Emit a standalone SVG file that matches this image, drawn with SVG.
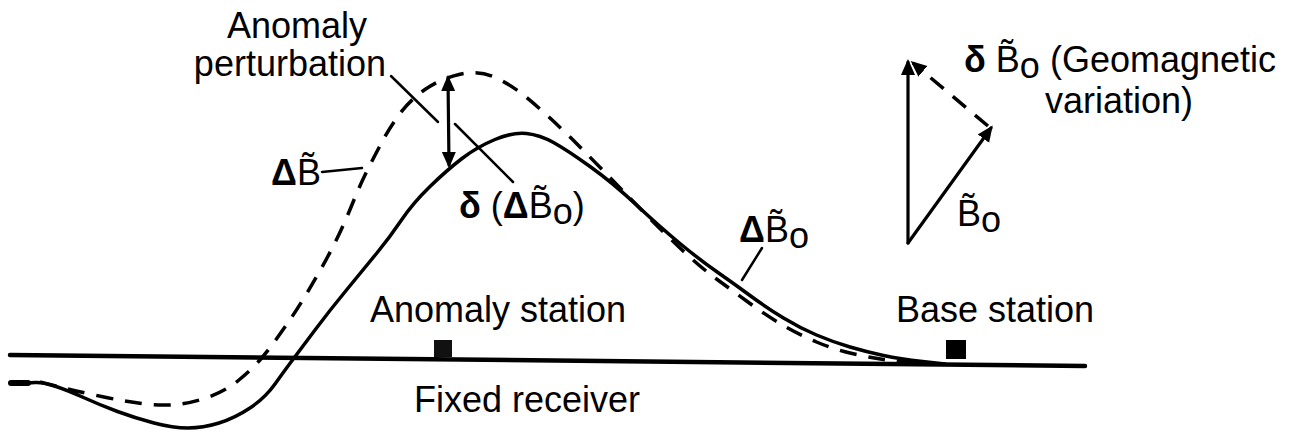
<svg xmlns="http://www.w3.org/2000/svg" width="1292" height="433" viewBox="0 0 1292 433">
<style>
text{font-family:"Liberation Sans",Arial,Helvetica,sans-serif;font-size:36px;fill:#000}
.b{font-weight:bold}
.e{text-anchor:end}
.ln{fill:none;stroke:#000;stroke-linecap:round;stroke-linejoin:round}
.solid{stroke-width:3.5}
.dash{stroke-width:3.5;stroke-dasharray:17 12;stroke-linecap:butt}
.lead{stroke-width:2.5}
.arr{stroke-width:3.2}
</style>
<defs>
<marker id="ah" viewBox="0 0 16 14" refX="13" refY="7" markerWidth="16" markerHeight="15" markerUnits="userSpaceOnUse" orient="auto-start-reverse">
<path d="M0,0 L16,7 L0,14 Z" fill="#000"/>
</marker>
</defs>
<rect width="1292" height="433" fill="#fff"/>

<g id="ground">
<path class="ln" d="M10,355 L1085,366" stroke-width="4.5"/>
<path class="ln" d="M11,383 L28,383" stroke-width="6" stroke-linecap="butt"/>
</g>

<g id="curves">
<path id="deltaB0-curve" class="ln solid" d="M28,383 L35,382.5 Q42,382 54.5,386 Q67,390 83.5,397.5 Q100,405 117.5,411.5 Q135,418 154,423 Q173,428 188,428 Q203,428 219,423 Q235,418 250,408 Q265,398 275,384 Q285,370 292.5,360 Q300,350 315,330 Q330,310 346.5,290 Q363,270 376.5,253.5 Q390,237 401.5,220 Q413,203 430,186.5 Q447,170 462,158.5 Q477,147 495,139.5 Q513,132 526.5,133.5 Q540,135 553.5,142.5 Q567,150 590,166.5 Q613,183 636.5,205 Q660,227 680,243.5 Q700,260 716.5,271.5 Q733,283 750,295.5 Q767,308 783.5,318 Q800,328 816.5,335 Q833,342 850,347 Q867,352 883.5,355.5 Q900,359 922.5,361.5 L945,364"/>
<path id="deltaB-curve" class="ln dash" d="M40,382 L60,387 Q80,392 101.5,396.5 Q123,401 141.5,403.5 Q160,406 176.5,404.5 Q193,403 210,396.5 Q227,390 239.5,379.5 Q252,369 259.5,360.5 Q267,352 275,341 Q283,330 290.5,319 Q298,308 305.5,295.5 Q313,283 321.5,268 Q330,253 337.5,237.5 Q345,222 352.5,203.5 Q360,185 367.5,170 Q375,155 382.5,141 Q390,127 400,113.5 Q410,100 425,89.5 Q440,79 459,74.5 Q478,70 494,77 Q510,84 523.5,95 Q537,106 550,118 Q563,130 576.5,143.5 Q590,157 605,172.5 Q620,188 640,208.5 Q660,229 680,248 Q700,267 716.5,279 Q733,291 750,303.5 Q767,316 783.5,325.5 Q800,335 816.5,342 Q833,349 850,353 Q867,357 883.5,359.5 Q900,362 917.5,363 L935,364"/>
</g>

<g id="connectors">
<path class="ln arr" d="M448,78 L449,165" marker-start="url(#ah)" marker-end="url(#ah)"/>
<path class="ln lead" d="M391,76 L438,122"/>
<path class="ln lead" d="M455,124 L513,182"/>
<path class="ln lead" d="M322,172 L362,168"/>
<path class="ln lead" d="M762,248 L742,280"/>
<path class="ln arr" d="M908,243 L908,62" marker-end="url(#ah)"/>
<path class="ln arr" d="M908,243 L991,128" marker-end="url(#ah)"/>
<path class="ln dash" d="M988,126 L913,63" stroke-width="3.2" marker-end="url(#ah)"/>
</g>

<g id="label-anomaly-perturbation">
<text class="e" x="367" y="38">Anomaly</text>
<text class="e" x="386" y="76">perturbation</text>
</g>
<g id="label-deltaB">
<text x="271" y="185"><tspan class="b">Δ</tspan>B̃</text>
</g>
<g id="label-delta-deltaB0">
<text x="459" y="218"><tspan class="b">δ</tspan> (<tspan class="b">Δ</tspan>B̃<tspan dy="6">o</tspan><tspan dy="-6">)</tspan></text>
</g>
<g id="label-deltaB0">
<text x="739" y="242"><tspan class="b">Δ</tspan>B̃<tspan dy="6">o</tspan></text>
</g>
<g id="label-geomagnetic">
<text x="964" y="72"><tspan class="b">δ</tspan> B̃<tspan dy="6">o</tspan><tspan dy="-6"> (Geomagnetic</tspan></text>
<text x="1045" y="113">variation)</text>
</g>
<g id="label-B0">
<text x="957" y="226">B̃<tspan dy="6">o</tspan></text>
</g>
<g id="anomaly-station">
<text x="370" y="322">Anomaly station</text>
<rect x="434" y="340" width="18" height="17" fill="#111"/>
</g>
<g id="base-station">
<text x="896" y="322">Base station</text>
<rect x="946" y="340" width="20" height="19" fill="#000"/>
</g>
<g id="fixed-receiver">
<text x="414" y="412">Fixed receiver</text>
</g>
</svg>
